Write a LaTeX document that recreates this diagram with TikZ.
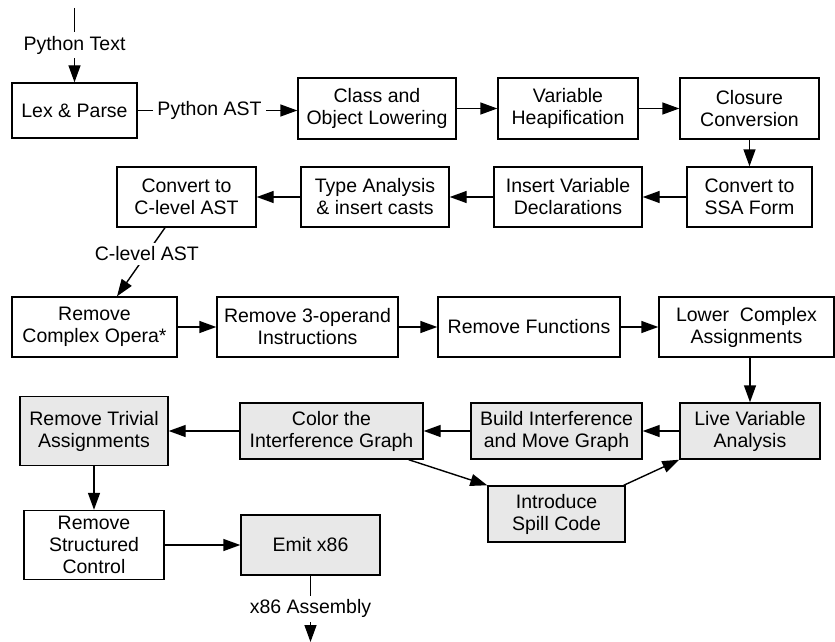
\documentclass[tikz,border=0pt]{standalone}
\usepackage{fontspec}
\setmainfont{Liberation Sans}
\usetikzlibrary{arrows.meta}
\tikzset{%
    stage/.style={%
        rectangle,
        draw,
        line width=1.4pt,
        align=center,
        inner sep=0pt
    },
    regstage/.style={%
        stage,
        fill=gray!18
    },
    flow/.style={%
        line width=1.4pt,
        -{Triangle[length=17pt,width=12pt]}
    },
    tag/.style={%
        fill=white,
        inner sep=4pt
    }
}

\begin{document}
\begin{tikzpicture}[x=1pt,y=-1pt,font=\fontsize{19.5}{22}\selectfont]
\useasboundingbox (0,0) rectangle (835,642);
% front end
\node[stage,minimum width=125pt,minimum height=55pt] (lex) at (74.5,110.5) {Lex \& Parse};
\node[stage,minimum width=158pt,minimum height=61pt] (class) at (377,108.5) {Class and\\Object Lowering};
\node[stage,minimum width=140pt,minimum height=61pt] (heap) at (568,108.5) {Variable\\Heapification};
\node[stage,minimum width=139pt,minimum height=61pt] (closure) at (749.5,108.5) {Closure\\Conversion};
\node[stage,minimum width=125pt,minimum height=60pt] (ssa) at (749.5,197) {Convert to\\SSA Form};
\node[stage,minimum width=148pt,minimum height=60pt] (decl) at (568,197) {Insert Variable\\Declarations};
\node[stage,minimum width=148pt,minimum height=60pt] (type) at (375,197) {Type Analysis\\\& insert casts};
\node[stage,minimum width=139pt,minimum height=60pt] (cconv) at (186.5,197) {Convert to\\C-level AST};
% lowering
\node[stage,minimum width=165pt,minimum height=60pt] (rco) at (94.5,327) {Remove\\Complex Opera*};
\node[stage,minimum width=181pt,minimum height=60pt] (rthree) at (307.5,327) {Remove 3-operand\\Instructions};
\node[stage,minimum width=182pt,minimum height=60pt] (rfun) at (529,327) {Remove Functions};
\node[stage,minimum width=175pt,minimum height=60pt] (lca) at (746.5,327) {Lower\ \ Complex\\Assignments};
% register allocation
\node[regstage,minimum width=140pt,minimum height=56pt] (live) at (750,431) {Live Variable\\Analysis};
\node[regstage,minimum width=171pt,minimum height=56pt] (build) at (556.5,431) {Build Interference\\and Move Graph};
\node[regstage,minimum width=183pt,minimum height=56pt] (color) at (331.5,431) {Color the\\Interference Graph};
\node[regstage,minimum width=137pt,minimum height=56pt] (spill) at (556.5,514) {Introduce\\Spill Code};
\node[regstage,minimum width=148pt,minimum height=69pt] (trivial) at (94,431) {Remove Trivial\\Assignments};
% back end
\node[stage,minimum width=140pt,minimum height=69pt] (struct) at (94,545) {Remove\\Structured\\Control};
\node[regstage,minimum width=139pt,minimum height=60pt] (emit) at (310.5,545) {Emit x86};
\coordinate (in) at (74.5,8);
\coordinate (out) at (310.5,642);

\draw[flow] (in) -- node[tag] {Python Text} (lex);
\draw[flow] (lex.east) -- node[tag,pos=0.45] {Python AST} (lex.east -| class.west);
\draw[flow] (class) -- (heap);
\draw[flow] (heap) -- (closure);
\draw[flow] (closure) -- (ssa);
\draw[flow] (ssa) -- (decl);
\draw[flow] (decl) -- (type);
\draw[flow] (type) -- (cconv);
\draw[flow] ([xshift=-21.5pt]cconv.south) -- node[tag,pos=0.38] {C-level AST} ([xshift=22.5pt]rco.north);
\draw[flow] (rco) -- (rthree);
\draw[flow] (rthree) -- (rfun);
\draw[flow] (rfun) -- (lca);
\draw[flow] (lca.south -| live.north) -- (live.north);
\draw[flow] (live) -- (build);
\draw[flow] (build) -- (color);
\draw[flow] (color) -- (trivial);
\draw[flow] ([xshift=-15pt]color.south east) -- (spill.north west);
\draw[flow] ([xshift=-2pt]spill.north east) -- (live.south west);
\draw[flow] (trivial) -- (struct);
\draw[flow] (struct) -- (emit);
\draw[flow] (emit) -- node[tag] {x86 Assembly} (out);
\end{tikzpicture}
\end{document}
